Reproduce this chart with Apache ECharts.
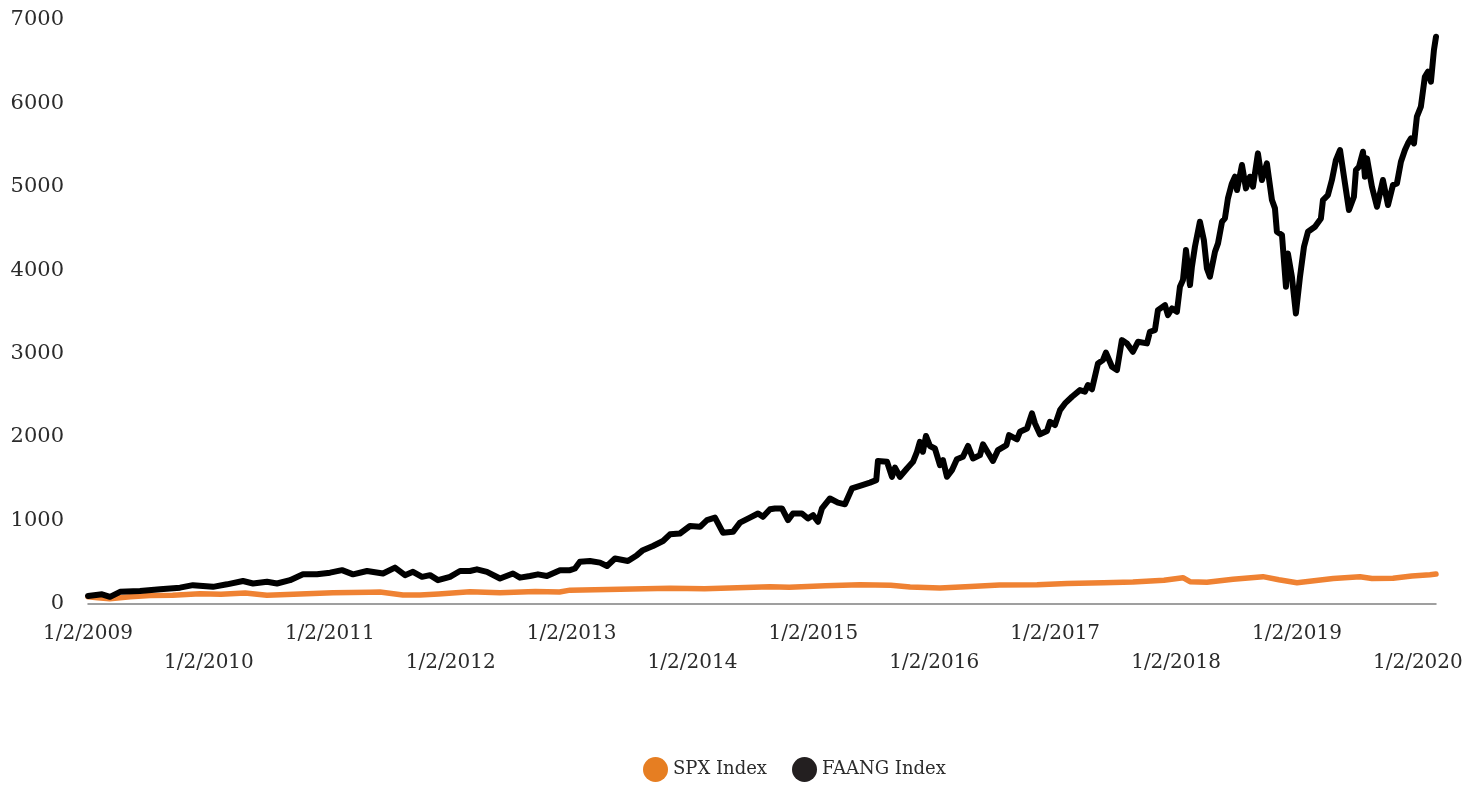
<!DOCTYPE html>
<html>
<head>
<meta charset="utf-8">
<title>SPX vs FAANG</title>
<script src="https://cdn.jsdelivr.net/npm/echarts@6/dist/echarts.min.js"></script>
<style>
  html, body { margin: 0; padding: 0; background: #ffffff; }
  #chart { width: 1471px; height: 785px; }
</style>
</head>
<body>
<div id="chart"></div>
<script>
// Time is kept as decimal years (2009.0 = 1/2/2009), values indexed to ~100.
const faangYears = [
  2009.000, 2009.116, 2009.182, 2009.265, 2009.430, 2009.596, 2009.761, 2009.868,
  2010.034, 2010.150, 2010.282, 2010.365, 2010.481, 2010.563, 2010.671, 2010.778, 2010.894,
  2011.002, 2011.101, 2011.192, 2011.308, 2011.440, 2011.539, 2011.622, 2011.688, 2011.763,
  2011.829, 2011.895, 2011.994,
  2012.077, 2012.159, 2012.217, 2012.300, 2012.408, 2012.515, 2012.573, 2012.656, 2012.722,
  2012.796, 2012.904, 2012.987,
  2013.028, 2013.069, 2013.152, 2013.235, 2013.293, 2013.359, 2013.466, 2013.541, 2013.590,
  2013.673, 2013.756, 2013.814, 2013.896, 2013.979,
  2014.062, 2014.120, 2014.186, 2014.252, 2014.335, 2014.393, 2014.475, 2014.542, 2014.583,
  2014.641, 2014.682, 2014.740, 2014.790, 2014.831, 2014.905, 2014.955, 2014.997,
  2015.038, 2015.071, 2015.137, 2015.203, 2015.261, 2015.319, 2015.385, 2015.468, 2015.520,
  2015.534, 2015.609, 2015.650, 2015.675, 2015.716, 2015.774, 2015.824, 2015.857, 2015.881,
  2015.906, 2015.931, 2015.964,
  2016.005, 2016.047, 2016.072, 2016.105, 2016.146, 2016.187, 2016.237, 2016.279, 2016.320,
  2016.378, 2016.403, 2016.485, 2016.527, 2016.597, 2016.618, 2016.684, 2016.709, 2016.767,
  2016.808, 2016.833, 2016.874, 2016.932, 2016.957, 2016.998,
  2017.040, 2017.081, 2017.139, 2017.205, 2017.246, 2017.271, 2017.304, 2017.354, 2017.395,
  2017.420, 2017.470, 2017.511, 2017.552, 2017.594, 2017.643, 2017.685, 2017.759, 2017.784,
  2017.825, 2017.850, 2017.908, 2017.933, 2017.966,
  2018.007, 2018.032, 2018.057, 2018.082, 2018.115, 2018.131, 2018.156, 2018.197, 2018.230,
  2018.255, 2018.280, 2018.322, 2018.347, 2018.380, 2018.404, 2018.429, 2018.462, 2018.487,
  2018.504, 2018.545, 2018.578, 2018.611, 2018.636, 2018.677, 2018.710, 2018.751, 2018.793,
  2018.818, 2018.834, 2018.876, 2018.909, 2018.925, 2018.958, 2018.991,
  2019.025, 2019.058, 2019.091, 2019.149, 2019.198, 2019.215, 2019.256, 2019.289, 2019.322,
  2019.356, 2019.397, 2019.430, 2019.471, 2019.488, 2019.513, 2019.546, 2019.562, 2019.579,
  2019.620, 2019.662, 2019.711, 2019.753, 2019.794, 2019.827, 2019.860, 2019.893, 2019.918,
  2019.943, 2019.968, 2019.992,
  2020.025, 2020.058, 2020.083, 2020.108, 2020.133, 2020.150
];
const faangValues = [
  90, 110, 80, 140, 150, 170, 190, 220,
  200, 230, 270, 240, 260, 240, 280, 350, 350,
  370, 400, 350, 390, 360, 430, 340, 380, 320,
  340, 280, 320,
  390, 390, 410, 380, 300, 360, 310, 330, 350,
  330, 400, 400,
  420, 500, 510, 490, 450, 540, 510, 580, 640,
  690, 750, 830, 840, 930,
  920, 1000, 1030, 850, 860, 970, 1030, 1080, 1040,
  1130, 1140, 1140, 1000, 1080, 1080, 1020, 1060,
  980, 1140, 1260, 1210, 1190, 1380, 1410, 1450, 1480,
  1710, 1700, 1520, 1630, 1520, 1620, 1700, 1820, 1940,
  1820, 2010, 1890,
  1860, 1660, 1720, 1520, 1600, 1730, 1760, 1890, 1740,
  1780, 1910, 1710, 1840, 1900, 2020, 1970, 2060, 2100,
  2280, 2160, 2030, 2070, 2180, 2140,
  2320, 2400, 2480, 2560, 2540, 2620, 2570, 2880, 2920,
  3010, 2840, 2800, 3160, 3120, 3020, 3140, 3120, 3260,
  3280, 3520, 3580, 3460, 3540,
  3500, 3800, 3880, 4240, 3820, 4040, 4280, 4580, 4360,
  4020, 3920, 4220, 4320, 4580, 4620, 4860, 5040, 5120,
  4960, 5260, 4980, 5120, 5000, 5400, 5080, 5280, 4840,
  4740, 4460, 4420, 3800, 4200, 3920, 3480,
  3920, 4280, 4460, 4520, 4620, 4840, 4900, 5080, 5320,
  5440, 5040, 4720, 4880, 5200, 5240, 5420, 5120, 5340,
  5000, 4760, 5080, 4780, 5020, 5040, 5300, 5440, 5520,
  5580, 5520, 5840,
  5960, 6320, 6380, 6260, 6640, 6800
];

const spxYears = [
  2009.000, 2009.080, 2009.180, 2009.350, 2009.513, 2009.700, 2009.926,
  2010.100, 2010.300, 2010.480, 2010.700,
  2011.026, 2011.330, 2011.415, 2011.605, 2011.746, 2011.900,
  2012.159, 2012.408, 2012.700, 2012.900, 2012.987,
  2013.400, 2013.814,
  2014.100, 2014.641, 2014.800,
  2015.100, 2015.385, 2015.640, 2015.800,
  2016.047, 2016.300, 2016.540, 2016.850,
  2017.100, 2017.400, 2017.643, 2017.900,
  2018.057, 2018.115, 2018.255, 2018.471, 2018.719, 2018.850,
  2019.000, 2019.300, 2019.521, 2019.620, 2019.794, 2019.950,
  2020.100, 2020.150
];
const spxValues = [
  80, 70, 58, 80, 95, 100, 118,
  112, 125, 100, 112,
  128, 135, 138, 102, 102, 115,
  142, 128, 145, 138, 160,
  170, 182,
  178, 202, 196,
  212, 225, 220, 198,
  185, 205, 222, 225,
  240, 248, 258, 280,
  310, 262, 255, 290, 322, 285,
  250, 300, 322, 300, 302, 330,
  345, 354
];

const FONT = 'DejaVu Serif';
const TEXT = '#2b2b2b';
const ORANGE_LINE = '#EF8233';
const ORANGE_DOT = '#E67E22';
const BLACK = '#000000';

const zip = (xs, ys) => xs.map((x, i) => [x, ys[i]]);

const chart = echarts.init(document.getElementById('chart'));

chart.setOption({
  animation: false,
  backgroundColor: '#ffffff',
  grid: { left: 88, right: 35, top: 20, bottom: 181.5, containLabel: false },
  legend: {
    left: 638,
    top: 752,
    icon: 'circle',
    itemWidth: 25,
    itemHeight: 25,
    itemGap: 25,
    textStyle: { fontFamily: FONT, fontSize: 18, color: TEXT },
    data: ['SPX Index', 'FAANG Index']
  },
  xAxis: {
    type: 'value',
    min: 2009,
    max: 2020.15,
    interval: 1,
    axisLine: { show: true, lineStyle: { color: '#808080', width: 1.5 } },
    axisTick: { show: false },
    splitLine: { show: false },
    axisLabel: {
      fontFamily: FONT,
      fontSize: 20,
      color: TEXT,
      lineHeight: 29,
      margin: 16,
      formatter: function (v) {
        if (Math.abs(v - Math.round(v)) > 1e-6) return '';
        const y = Math.round(v);
        return ((y - 2009) % 2 ? '\n' : '') + '1/2/' + y;
      }
    }
  },
  yAxis: {
    type: 'value',
    min: 0,
    max: 7000,
    interval: 1000,
    axisLine: { show: false },
    axisTick: { show: false },
    splitLine: { show: false },
    axisLabel: {
      fontFamily: FONT, fontSize: 21, color: TEXT, margin: 24,
      formatter: v => String(v)
    }
  },
  series: [
    {
      name: 'SPX Index',
      type: 'line',
      data: zip(spxYears, spxValues),
      showSymbol: false,
      symbol: 'none',
      itemStyle: { color: ORANGE_DOT },
      lineStyle: { color: ORANGE_LINE, width: 5.5, join: 'round', cap: 'round' },
      emphasis: { disabled: true }
    },
    {
      name: 'FAANG Index',
      type: 'line',
      data: zip(faangYears, faangValues),
      showSymbol: false,
      symbol: 'none',
      itemStyle: { color: '#231F20' },
      lineStyle: { color: BLACK, width: 6, join: 'round', cap: 'round' },
      emphasis: { disabled: true }
    }
  ]
});
</script>
</body>
</html>
